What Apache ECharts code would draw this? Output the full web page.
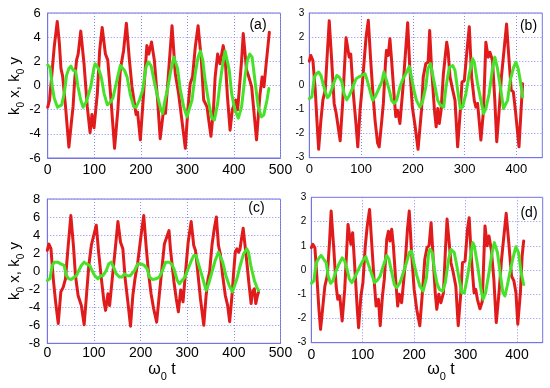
<!DOCTYPE html>
<html><head><meta charset="utf-8">
<script src="https://cdn.jsdelivr.net/npm/echarts@6/dist/echarts.min.js"></script>
<style>html,body{margin:0;padding:0;background:#fff}#c{width:550px;height:388px}</style>
</head><body><div id="c"></div>
<script>
// ---- data: [omega0 t, value] ----
var xTicksA = [0,100,200,300,400,500];
var redA = [[0,-1.8],[4,-1.2],[8,0.5],[14,3.2],[20.5,5.3],[25,3.5],[28.5,1.4],[32,0.8],[38,-1.6],[45.5,-5.1],[51,-3],[54.5,-1.75],[58,0.5],[62,2.1],[65.4,2.6],[67,2.5],[71,4.5],[78,1.8],[85,-1.75],[91,-3.9],[95,-2.4],[99.5,-3.5],[106.6,-0.65],[111.6,2.9],[117,4.8],[124,2.6],[129,2.1],[136,-1.2],[143.6,-5.2],[150.7,-2],[156,1.3],[163,2.9],[169,5.15],[175.5,2.1],[181,-0.1],[189.8,-2.4],[193,-2.2],[199,-4.5],[206,-0.65],[213,3.3],[217,2.6],[223,3.6],[229,2.1],[236,-1.2],[241.6,-4.4],[249,-2],[253,-2.3],[260,1.3],[267,4.95],[274,1],[281,-0.65],[288,-2.8],[295.6,-5.2],[301,-2],[306,0.15],[311,0.7],[317,3.2],[323,4.95],[330,2.1],[335,-1.2],[342,-1.75],[350.6,-4.2],[356,-2],[359.6,0.7],[365,2.6],[370,1.8],[377,3.3],[381,2.35],[386,-0.9],[391.7,-3.7],[396.6,-2],[403.6,-1.2],[408,-2],[416.5,2.1],[420,4.3],[427,1.3],[432,0.7],[438,-0.1],[448.5,-4.5],[455.5,-0.9],[460.5,0.7],[464.5,-0.1],[470,2.1],[476,4.4]];
var greenA = [[0,1.7],[5,1.5],[10,-0.1],[14,-1.05],[21,-1.8],[30,-1.6],[35.5,-0.65],[40.5,0.85],[45.5,1.4],[50,1.6],[54.7,1.25],[60,1.2],[65,-0.1],[71,-1.2],[76,-1.8],[83,-1.35],[87,-1.4],[92.4,-0.1],[99.5,1.5],[102,1.8],[109,1.4],[115,0.7],[121,-0.65],[128,-1.6],[135,-1.35],[140,-1.05],[147,0.15],[156,1.65],[159,1.8],[165,1.25],[170.5,0.7],[177.7,-0.8],[184.8,-1.75],[190,-1.8],[197,-1.2],[204,-0.4],[211,1.5],[216,1.95],[222,1.65],[229,0.3],[236,-0.9],[243,-2],[247,-2.3],[252,-1.2],[257,-0.4],[263.7,1.1],[270.8,2.35],[274,2.5],[279,1.4],[285,-0.4],[292,-1.75],[299,-2.6],[303,-2.7],[310,-1.2],[317,1],[323,2.35],[328,2.85],[333,2.1],[338,0.45],[345.6,-1.35],[352.5,-2.7],[358,-2.85],[365,-1.5],[370,0.15],[376,1.8],[381,2.85],[385,2.75],[390,1.25],[395,-0.65],[402,-2],[409.5,-2.7],[416.5,-1.75],[423.6,0.7],[429,2.1],[434,2.6],[439,2.35],[445,0.45],[452,-1.75],[459,-2.6],[464,-2.45],[471,-1.2],[475,-0.25]];
var redB = [[0,1.0],[3,1.24],[7,1.03],[11.5,-0.2],[14.7,-1.45],[18,-2.65],[22.4,-1.45],[26.3,-0.6],[30.8,-0.2],[34,1.03],[38.5,2.68],[43.6,0.9],[48,-0.75],[52,-1.17],[54.5,-1.1],[59.6,-2.3],[64.7,-0.62],[67.3,0.48],[71,1.97],[74,1.58],[77,1.17],[80,1.3],[85,-0.34],[90.4,-1.65],[93.6,-2.55],[98,-1.03],[101,-0.34],[106,1.03],[109.6,2],[114,2.7],[118.6,1.03],[122.4,-0.2],[127,-1.45],[132,-2.4],[135,-2.55],[140,-1.45],[143,-0.75],[147.4,1.03],[149,1.45],[152.5,1.24],[155.7,1.93],[159,1.03],[163.5,-0.34],[167,-1.3],[170.5,-1.03],[175,-1.58],[181,-0.07],[186.5,1.58],[190,2.6],[194,0.75],[199,-0.9],[204.5,-1.72],[210,-2.65],[216.7,-1.03],[220,0.34],[225,0.9],[229.5,0.96],[232.5,2.27],[236,0.75],[241.7,-1.03],[245,-1.72],[248,-0.96],[251,-1.58],[254.5,-1.03],[259,0.48],[265.4,1.79],[268,1.44],[271.8,0.34],[277,-0.2],[281.4,-0.62],[286.5,-2.55],[291.7,-1.03],[294.9,0.14],[299.4,0.2],[304.5,1.44],[309,2.43],[313.5,0.34],[318.6,-0.62],[321.8,-0.9],[325,-0.75],[331.4,-2.27],[336.5,-1.03],[341,1.79],[345.5,1.17],[349,1.37],[353.8,1.03],[358.3,-0.62],[362,-2.34],[366.7,-1.03],[371,0.34],[376,1.44],[381,2.54],[385.8,1.03],[390,-0.2],[394,-0.27],[398,-1.03],[405,-2.55],[409,-1.03],[412,0.07]];
var greenB = [[0,-0.55],[5,-0.48],[9.6,0.34],[13.5,0.48],[18,0.55],[22.4,0.41],[26,0.34],[30.8,-0.27],[35,-0.51],[39,-0.41],[43.6,-0.14],[48,0.14],[53,0.41],[58,0.34],[63,0.14],[67,-0.34],[72.4,-0.6],[77.6,-0.41],[82,-0.2],[86.5,0.07],[90.4,0.27],[95,0.34],[101,0.41],[107.7,0.48],[112,0.2],[117,-0.2],[122.4,-0.62],[127,-0.48],[133,-0.2],[140,0.14],[144,0.55],[149,0.2],[154.5,-0.2],[159,-0.62],[163.5,-0.75],[168.6,-0.62],[175,-0.07],[181,0.27],[188,0.55],[193,0.79],[197.4,0.34],[202,-0.2],[207,-0.62],[213.5,-0.9],[218.6,-0.69],[225,-0.07],[229,0.69],[234,0.9],[237,0.85],[241.7,0.07],[248,-0.62],[253,-0.82],[259.6,-0.9],[264,-0.07],[270.5,0.75],[277,0.82],[281.4,0.62],[286.5,-0.2],[291.7,-0.96],[296,-0.9],[302.5,-0.34],[309,0.48],[315.4,1.1],[318.6,0.96],[325,0.07],[331.4,-0.62],[336.5,-1.17],[341,-0.96],[347.4,-0.34],[353.8,0.69],[358.3,1.17],[363.5,0.69],[370,-0.2],[375,-0.96],[378,-1.03],[383,-0.62],[388,0.2],[394.6,0.75],[399,0.96],[403.5,0.69],[408.5,0.07],[412,-0.48]];
var redC = [[0,2.3],[3.5,3.0],[7.8,2.5],[12.8,-0.85],[17.8,-3.4],[23.5,-5.8],[29,-2.3],[34,-1.8],[39,-0.85],[44.8,2.84],[50.5,6.16],[56,2.84],[60.4,-0.5],[66,-2.7],[73,-3.8],[79,-5.94],[84,-2.7],[89,0.63],[94.5,2.9],[98,2.84],[105,5.1],[110,2.1],[116,-0.85],[121.5,-3.4],[125,-4.35],[130,-2.5],[133.6,-3.8],[140.7,-0.1],[145.7,2.47],[151.4,5.5],[157,3.2],[162,2.47],[167,-0.85],[172.7,-3.4],[178.4,-6.1],[183.4,-2.7],[188,-0.85],[194,1.0],[201,3.95],[206.8,6.16],[211.8,2.84],[216.8,-0.1],[222.5,-2.5],[228,-4.17],[234.5,-5.65],[240,-2.7],[245,-0.1],[251,3.0],[255,3.0],[261,4.5],[264,2.47],[271.6,-1.2],[276.5,-3.06],[281,-4.5],[286,-2.1],[291,-3.4],[296.4,-0.1],[302,3.2],[308.5,5.5],[314,2.84],[317.7,2.3],[323.4,-0.5],[328.4,-3.06],[335.5,-6.0],[340.5,-2.7],[344.7,-0.85],[348,-0.1],[353,2.84],[358,4.7],[362.5,6.0],[367,2.84],[371,1.9],[376,-0.5],[381.7,-2.7],[386.6,-3.8],[391,-5.6],[396,-2.7],[399.6,-0.1],[403,2.1],[406.5,2.47],[410,2.1],[413,2.4],[417,3.8],[420,4.76],[424,2.84],[427.8,1.0],[432.8,-1.6],[437,-3.6],[440,-2.3],[444,-1.96],[447,-3.6],[450.6,-2.7],[453,-2.3]];
var greenC = [[0,-1.03],[5.7,-0.85],[10.7,0.63],[15,1.0],[22,1.0],[29,0.8],[36,0.63],[41,-0.5],[46,-0.85],[52,-0.92],[57.6,-0.66],[62.5,-0.5],[67.5,0.07],[73,0.63],[79,1.0],[84,0.8],[91,0.63],[96,0.07],[101.6,-0.5],[108.7,-0.85],[114.4,-0.5],[119.4,-0.5],[126.5,0.07],[131.5,0.8],[137,1.0],[142,0.44],[148,-0.3],[155,-0.66],[160,-0.66],[165.6,-0.3],[171,-0.5],[178,-0.5],[187,0.07],[194,0.8],[201,0.8],[208,0.63],[214,0.26],[219,-0.66],[226,-0.92],[233,-0.85],[240,-0.66],[247,0.07],[253.7,1.0],[261,1.0],[266.5,0.8],[271.6,0.26],[278.6,-1.03],[283.6,-1.4],[289,-1.03],[295,-0.66],[302,0.26],[309,1.18],[314,1.73],[319,1.73],[325,0.63],[330.5,-0.3],[335.5,-1.2],[340.5,-2.14],[346,-1.4],[353,-0.1],[360,1.18],[367,2.1],[371,2.3],[376,1.0],[383,-0.5],[390,-1.6],[397,-2.3],[401,-2.14],[406.5,-0.85],[413.6,0.63],[420.7,1.9],[427.8,2.47],[431.4,2.1],[437,0.44],[444,-1.03],[449,-1.77],[453,-2.14]];
var redD = [[0,0.92],[3,1.06],[7,0.92],[11.6,-0.52],[14.8,-1.62],[18,-2.45],[22.5,-1.49],[26.4,-0.66],[31,-0.25],[35.4,1.13],[38.6,2.43],[43.8,0.85],[48.3,-0.66],[51.5,-1.21],[55.3,-1.07],[60,-2.1],[65,-0.8],[67.6,0.3],[71.4,1.88],[74.6,1.4],[77,1.06],[80.4,1.54],[85.6,-0.25],[89.4,-1.62],[92,-2.38],[96.5,-1.07],[100.4,-0.52],[105,1.0],[108.8,1.82],[113.3,2.5],[117.8,1.0],[121.6,-0.25],[126,-1.49],[130.6,-1.21],[134,-2.3],[138.4,-1.07],[142,-0.38],[146.7,1.27],[150,1.6],[153,1.2],[156.4,1.68],[159.6,1.0],[164,-0.38],[168,-1.49],[171,-1.0],[175.7,-1.35],[182,0.1],[187,1.68],[190.5,2.43],[195,0.72],[200,-0.8],[205,-1.62],[211,-2.3],[216,-0.94],[220.7,0.44],[225,0.92],[229,1.0],[233,1.95],[236,0.85],[241,-0.94],[244,-1.62],[248,-1.0],[252,-1.35],[257,-0.94],[260.6,0.72],[264,2.1],[267,1.4],[271.6,0.3],[276,-0.1],[281,-0.66],[285.7,-2.3],[290.8,-0.94],[294,0.3],[299,0.37],[303.7,1.68],[307,2.16],[311.4,0.44],[316.6,-0.94],[319.8,-0.8],[323,-1.21],[328,-1.6],[332.5,-1.3],[337.8,1.82],[342,1.0],[345.5,1.4],[350,0.85],[355,-0.38],[359.7,-2.17],[365,-0.94],[370,0.44],[374.5,1.4],[379,2.34],[384,1.13],[389.4,-0.25],[394,-0.45],[398,-0.94],[401.5,-2.24],[406.6,-0.94],[410,0.58],[413,1.2]];
var greenD = [[0,-0.55],[5,-0.45],[9.6,0.3],[15,0.5],[19,0.6],[24.5,0.44],[29,0.3],[32.8,-0.25],[37.3,-0.55],[42,-0.45],[47,-0.1],[53.4,0.23],[60,0.5],[65,0.37],[69.5,0.03],[74,-0.38],[79,-0.52],[84,-0.32],[89,-0.1],[95,0.17],[101.7,0.44],[106,0.55],[111,0.23],[116.5,-0.1],[123,-0.52],[127.4,-0.45],[134,-0.25],[140,0.17],[146.7,0.6],[151,0.44],[156.4,-0.1],[161.5,-0.6],[166,-0.73],[172.5,-0.52],[179,-0.1],[185,0.3],[190.5,0.72],[195,0.78],[200,0.23],[204.6,-0.18],[211,-0.66],[217.5,-0.87],[224,-0.32],[228,0.7],[231,0.85],[235,0.72],[239.4,0.03],[244,-0.52],[249,-0.8],[255.5,-0.87],[260.6,-0.52],[267,0.44],[271.6,0.85],[278,0.72],[282.5,0.23],[287.6,-0.38],[292.8,-0.94],[297.6,-0.94],[304,-0.25],[309,0.44],[314,1.13],[317,1.0],[323.5,0.17],[330,-0.8],[334,-1.21],[339,-0.94],[345.6,-0.1],[352,0.78],[356,1.13],[362,0.72],[368,-0.25],[372.6,-0.94],[376.5,-1.07],[381,-0.66],[387.4,0.03],[394,0.65],[398,0.96],[403,0.72],[408,-0.1],[413,-0.6]];
var panelLabels = ['(a)','(b)','(c)','(d)'];
var yTitle = ['k','0',' x, k','0',' y'];
var xTitle = ['\u03c9','0',' t'];

var FONT = 'Liberation Sans, Arial, sans-serif';
var BLUE = '#7474e4';
var GRIDC = '#8c8cf2';
var RED = '#e11b1b';
var GREEN = '#46e22a';

var grids = [
  {left:47.7, top:13, width:232.8, height:145},
  {left:309.3, top:13, width:233, height:144.7},
  {left:47.3, top:199, width:233.2, height:144.3},
  {left:311.3, top:197.3, width:231.4, height:145.4}
];
var yRanges = [[-6,6,2],[-3,3,1],[-8,8,2],[-3,3,1]];
var xMax = [500,450,500,450];
var yFont = [13,10,13,10];
var yMargin = [7,5,7,5];
var xFont = [14,13,14,14];
var xMargin = [5,5,3,5];

var option = {
  animation:false,
  backgroundColor:'#fff',
  grid: grids.map(function(g){return Object.assign({show:true,borderColor:BLUE,borderWidth:1,containLabel:false},g);}),
  xAxis: grids.map(function(g,i){return {
    type:'value', gridIndex:i, min:0, max:xMax[i], interval:100,
    axisLine:{show:true,onZero:false,lineStyle:{color:BLUE,width:1}},
    axisTick:{show:false},
    splitLine:{show:true,lineStyle:{color:GRIDC,type:[1,2],width:1}},
    axisLabel:{color:'#000',fontFamily:FONT,fontSize:xFont[i],margin:xMargin[i],showMaxLabel: xMax[i]===500}
  };}),
  yAxis: grids.map(function(g,i){return {
    type:'value', gridIndex:i, min:yRanges[i][0], max:yRanges[i][1], interval:yRanges[i][2],
    axisLine:{show:true,onZero:false,lineStyle:{color:BLUE,width:1}},
    axisTick:{show:false},
    splitLine:{show:true,lineStyle:{color:GRIDC,type:[1,2],width:1}},
    axisLabel:{color:'#000',fontFamily:FONT,fontSize:yFont[i],margin:yMargin[i]}
  };}),
  series: [],
  graphic: []
};
var reds=[redA,redB,redC,redD], greens=[greenA,greenB,greenC,greenD];
for (var i=0;i<4;i++){
  option.series.push({type:'line',xAxisIndex:i,yAxisIndex:i,data:reds[i],showSymbol:false,symbol:'none',
    lineStyle:{color:RED,width:3,join:'round',cap:'round'},z:2});
}
for (var i=0;i<4;i++){
  option.series.push({type:'line',xAxisIndex:i,yAxisIndex:i,data:greens[i],showSymbol:false,symbol:'none',
    lineStyle:{color:GREEN,width:3,join:'round',cap:'round'},z:3});
}
var richT = {
  m:{fontSize:15,fontFamily:FONT,fill:'#000'},
  s:{fontSize:10,fontFamily:FONT,fill:'#000',lineHeight:10,padding:[12,0,0,0]}
};
function richText(parts){
  return parts.map(function(p,k){return '{'+(k%2===0?'m':'s')+'|'+p+'}';}).join('');
}
var labelPos = [[258,25],[528.5,26],[256.5,208],[529,213.5]];
labelPos.forEach(function(p,i){
  option.graphic.push({type:'text',x:p[0],y:p[1],z:10,style:{text:panelLabels[i],fontSize:14,fontFamily:FONT,fill:'#000',align:'center',verticalAlign:'middle'}});
});
[[15,86],[15,271]].forEach(function(p){
  option.graphic.push({type:'text',x:p[0],y:p[1],rotation:Math.PI/2,z:10,style:{text:richText(yTitle),rich:richT,align:'center',verticalAlign:'middle'}});
});
var richX = {
  m:{fontSize:16,fontFamily:FONT,fill:'#000'},
  s:{fontSize:11,fontFamily:FONT,fill:'#000',lineHeight:11,padding:[13,0,0,0]}
};
[[162,370],[441,370]].forEach(function(p){
  option.graphic.push({type:'text',x:p[0],y:p[1],z:10,style:{text:richText(xTitle),rich:richX,align:'center',verticalAlign:'middle'}});
});
var chart = echarts.init(document.getElementById('c'),null,{renderer:'canvas'});
chart.setOption(option);
</script></body></html>
